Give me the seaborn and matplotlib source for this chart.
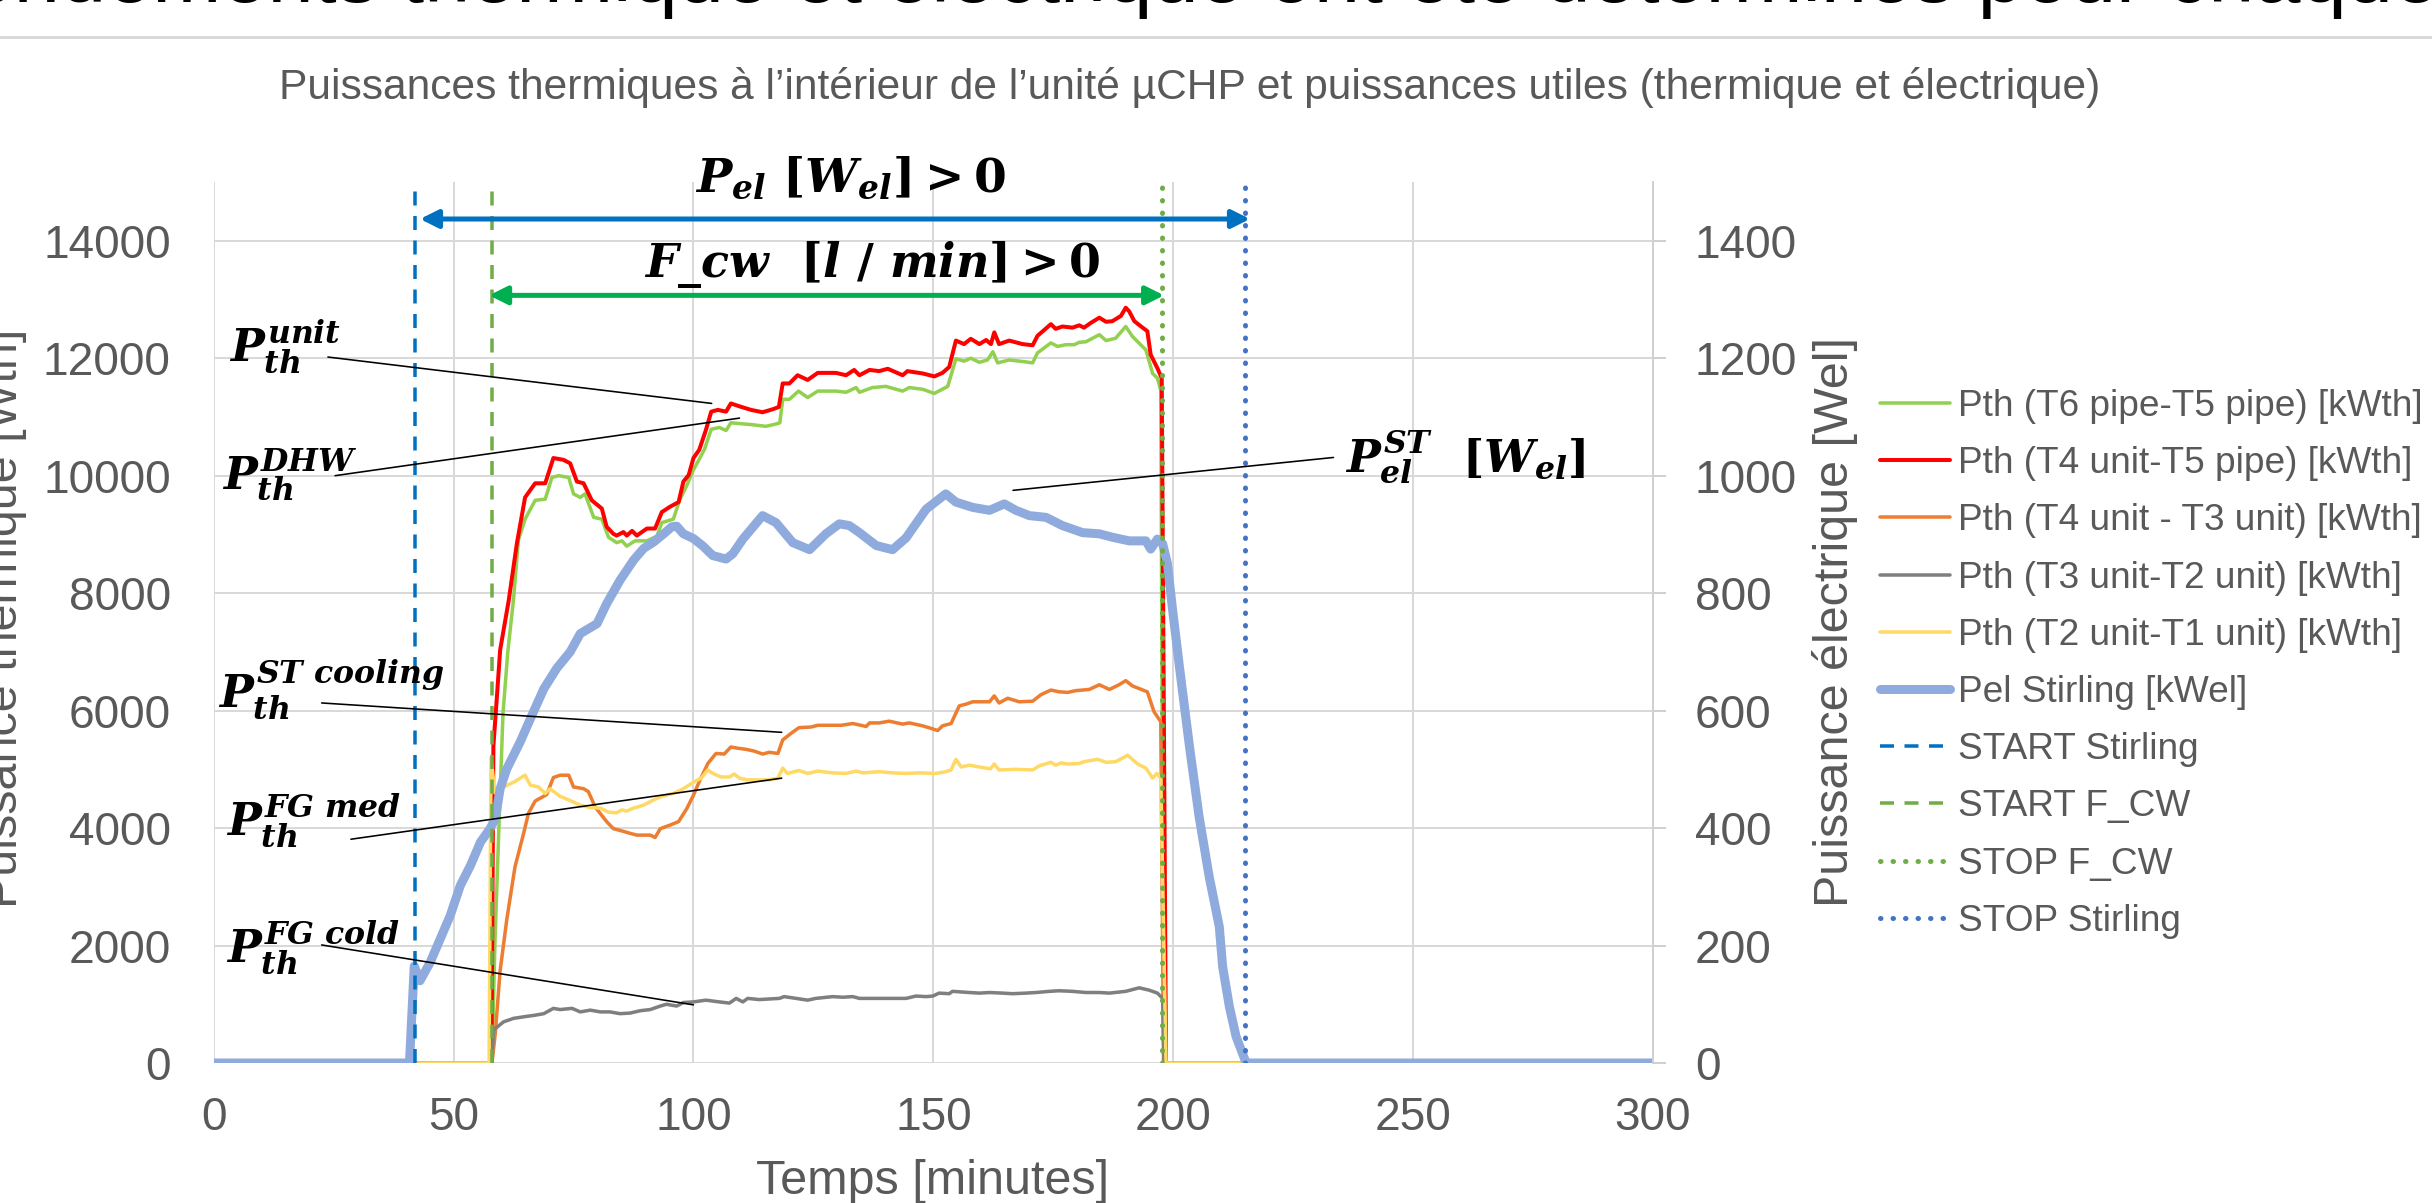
"""Thermal and electrical power of the uCHP unit during one Stirling run."""
# %%
import matplotlib
matplotlib.use('Agg')
import matplotlib.pyplot as plt
import seaborn as sns
from matplotlib.lines import Line2D

# %%
# values: time [min], thermal power [Wth], electrical power [Wel]
t_dhw = [0, 58.0, 58.6, 59.4, 60.3, 61.3, 62.5, 63.5, 64.9, 67.0, 69.1, 70.5, 71.9, 74.0, 75.0, 76.4,
         77.4, 79.2, 80.9, 82.3, 84.0, 85.1, 86.1, 87.8, 90.3, 92.4, 93.4, 95.8, 97.2, 98.6, 100.0,
         101.2, 102.3, 103.7, 105.4, 106.8, 107.8, 109.2, 112.0, 115.1, 117.2, 118.0, 118.6, 120.0,
         121.9, 123.8, 125.9, 129.7, 131.8, 133.9, 134.6, 137.3, 140.1, 143.6, 145.0, 147.8, 150.2,
         153.0, 154.7, 156.4, 157.8, 159.6, 161.3, 162.4, 163.4, 165.8, 169.0, 170.7, 171.7, 174.5,
         175.9, 177.6, 179.4, 180.4, 181.8, 184.6, 186.0, 188.0, 190.1, 191.5, 194.3, 195.7, 196.7,
         197.4, 198.0, 300]
p_dhw = [0, 0, 2000, 3900, 5950, 7000, 7900, 8900, 9260, 9580, 9600, 9970, 10000, 9970, 9690, 9630,
         9690, 9290, 9260, 8950, 8860, 8890, 8800, 8890, 8890, 8970, 9200, 9260, 9600, 9830, 10100,
         10280, 10450, 10790, 10820, 10770, 10900, 10890, 10870, 10840, 10880, 10900, 11300, 11300,
         11440, 11330, 11440, 11440, 11420, 11500, 11420, 11500, 11520, 11440, 11500, 11470, 11400,
         11520, 11990, 11950, 12000, 11930, 11970, 12110, 11920, 11970, 11940, 11920, 12090, 12260,
         12200, 12230, 12230, 12270, 12280, 12400, 12300, 12340, 12540, 12370, 12140, 11740, 11660,
         11460, 0, 0]

t_unit = [0, 57.9, 58.3, 59.0, 59.7, 61.5, 63.2, 64.9, 67.0, 69.1, 70.8, 72.9, 74.3, 75.7, 77.1, 78.8,
          80.9, 81.9, 83.3, 84.0, 85.4, 86.1, 87.2, 88.2, 90.3, 92.0, 93.4, 95.1, 96.9, 97.9, 99.0,
          100.0, 101.2, 102.6, 103.7, 105.1, 106.8, 107.8, 109.6, 112.0, 114.4, 116.5, 117.8, 118.6,
          120.0, 121.7, 123.8, 125.9, 129.7, 131.8, 133.5, 134.6, 136.7, 138.7, 140.5, 143.6, 144.6,
          147.8, 150.2, 151.9, 153.3, 154.7, 156.4, 157.8, 159.6, 161.0, 162.0, 162.7, 163.7, 165.8,
          168.6, 170.7, 171.7, 174.5, 175.5, 176.9, 179.0, 180.4, 181.4, 182.8, 184.6, 186.0, 187.3,
          189.1, 190.1, 190.8, 191.9, 193.3, 194.6, 195.3, 196.7, 197.6, 198.5, 300]
p_unit = [0, 0, 5400, 6200, 7030, 7880, 8850, 9630, 9870, 9870, 10300, 10270, 10210, 9900, 9870, 9580,
          9440, 9130, 9010, 8980, 9040, 8980, 9060, 8980, 9100, 9100, 9380, 9470, 9550, 9900, 10010,
          10300, 10440, 10780, 11090, 11120, 11090, 11230, 11180, 11120, 11080, 11130, 11170, 11570,
          11570, 11710, 11630, 11750, 11750, 11710, 11800, 11710, 11800, 11780, 11820, 11710, 11780,
          11740, 11690, 11750, 11850, 12300, 12240, 12330, 12240, 12310, 12240, 12440, 12240, 12300,
          12240, 12220, 12380, 12580, 12500, 12540, 12520, 12560, 12520, 12600, 12690, 12620, 12630,
          12720, 12860, 12800, 12630, 12540, 12460, 12060, 11830, 11660, 0, 0]

t_cool = [0, 58.0, 58.7, 59.7, 61.1, 62.8, 64.6, 65.6, 67.0, 69.4, 70.8, 72.2, 74.0, 75.0, 77.1, 78.1,
          79.5, 81.9, 83.3, 84.7, 86.8, 88.2, 89.6, 91.0, 92.0, 93.1, 95.1, 96.9, 98.6, 100.0, 101.2,
          103.0, 104.7, 106.4, 107.8, 109.2, 111.0, 112.7, 114.4, 115.8, 117.6, 118.6, 120.3, 122.0,
          124.5, 125.9, 128.3, 130.8, 133.2, 136.0, 136.7, 138.7, 140.8, 143.6, 145.0, 147.8, 149.8,
          150.9, 151.9, 153.7, 155.4, 156.8, 158.2, 161.7, 162.7, 163.7, 165.5, 167.9, 170.7, 172.4,
          174.5, 176.2, 178.0, 179.7, 181.1, 182.5, 184.6, 186.7, 188.7, 190.1, 191.5, 194.6, 196.0,
          197.4, 198.0, 300]
p_cool = [0, 0, 510, 1570, 2450, 3340, 3910, 4250, 4460, 4570, 4860, 4900, 4900, 4700, 4670, 4620,
          4360, 4110, 3990, 3960, 3910, 3880, 3880, 3880, 3840, 3990, 4050, 4110, 4330, 4560, 4790,
          5100, 5270, 5260, 5380, 5360, 5340, 5310, 5260, 5290, 5270, 5500, 5610, 5710,
          5720, 5750, 5750, 5750, 5780, 5730, 5790, 5790, 5820, 5770, 5790, 5740, 5690,
          5660, 5740, 5780, 6080, 6110, 6150, 6150, 6250, 6130, 6210, 6150, 6160, 6270,
          6350, 6320, 6310, 6340, 6350, 6360, 6440, 6360, 6440, 6510, 6420, 6320, 5980,
          5810, 0, 0]

t_cold = [0, 58.0, 58.3, 60.4, 62.5, 64.9, 66.7, 68.8, 70.8, 72.2, 74.7, 76.4, 78.5, 80.6, 82.6, 84.7,
          86.8, 88.9, 91.0, 93.1, 94.4, 96.5, 97.9, 100.0, 102.6, 105.4, 107.5, 108.9, 110.3, 111.3,
          113.7, 117.9, 118.9, 121.4, 123.8, 125.5, 129.0, 131.1, 133.2, 134.6, 137.3, 141.5, 144.3,
          146.4, 148.5, 149.9, 151.2, 153.3, 154.0, 157.5, 159.6, 161.7, 164.4, 166.5, 169.3, 171.4,
          174.2, 176.2, 179.0, 181.8, 184.6, 186.7, 190.1, 192.9, 195.0, 196.7, 197.8, 198.1, 300]
p_cold = [0, 0, 560, 700, 760, 790, 810, 840, 930, 910, 930, 870, 900, 870, 870, 840,
          850, 890, 910, 970, 1000, 970, 1030, 1040, 1070, 1040, 1020, 1100, 1040, 1100,
          1080, 1100, 1130, 1100, 1070, 1100, 1130, 1120, 1130, 1100, 1100, 1100, 1100,
          1140, 1130, 1140, 1190, 1180, 1220, 1200, 1190, 1200, 1190, 1180, 1190, 1200,
          1220, 1230, 1220, 1200, 1200, 1190, 1220, 1280, 1240, 1190, 1100, 0, 0]

t_med = [0, 57.4, 57.8, 58.6, 60.4, 62.5, 64.9, 66.0, 67.7, 69.1, 70.1, 72.2, 74.0, 76.4, 78.5, 80.6,
         82.3, 84.0, 85.1, 86.1, 87.5, 89.6, 91.7, 93.4, 95.8, 97.9, 100.0, 101.6, 103.0, 104.0, 105.8,
         107.5, 108.5, 109.6, 111.3, 113.7, 115.8, 117.6, 118.6, 119.6, 122.0, 123.8, 125.9, 129.0,
         131.8, 133.9, 135.3, 138.7, 141.5, 144.3, 147.1, 150.5, 152.6, 153.7, 154.7, 155.8, 157.5,
         160.3, 161.9, 162.7, 163.7, 167.2, 170.7, 172.1, 174.5, 175.5, 176.6, 178.0, 180.4, 181.4,
         184.2, 186.0, 188.0, 190.5, 192.6, 194.3, 195.7, 196.6, 197.4, 198.5, 300]
p_med = [0, 0, 5200, 4600, 4700, 4780, 4900, 4730, 4700, 4590, 4670, 4540, 4480, 4390, 4350, 4340,
         4270, 4260, 4310, 4290, 4340, 4390, 4480, 4540, 4590, 4670, 4780, 4850, 4990, 4930, 4870,
         4870, 4920, 4850, 4820, 4820, 4820, 4850, 5020, 4930, 4980, 4930, 4970, 4940,
         4930, 4970, 4940, 4960, 4940, 4930, 4940, 4930, 4960, 4990, 5170, 5040, 5070,
         5030, 5010, 5090, 4990, 5000, 4990, 5060, 5120, 5070, 5110, 5090, 5100, 5130,
         5170, 5120, 5130, 5240, 5090, 5020, 4850, 4930, 4850, 0, 0]

t_pel = [0, 40.8, 41.8, 43.0, 45.1, 47.2, 49.3, 51.4, 53.5, 55.6, 57.6, 58.7, 59.7, 61.1, 63.9, 66.0,
         68.8, 71.5, 74.3, 76.4, 79.9, 81.9, 84.7, 87.5, 89.6, 91.7, 93.8, 95.5, 96.5, 97.9, 100.0,
         102.0, 104.0, 106.8, 108.2, 110.3, 114.4, 117.2, 120.7, 124.2, 127.6, 130.4, 132.5, 134.6,
         138.1, 141.5, 144.3, 148.5, 152.6, 154.7, 158.2, 161.7, 164.8, 167.2, 170.0, 173.5, 176.9,
         181.1, 184.6, 187.4, 190.8, 194.3, 195.3, 196.7, 197.8, 198.8, 199.8, 201.3, 203.4, 205.4,
         207.5, 209.6, 210.3, 211.7, 213.1, 215.2, 300]
p_pel = [0, 0, 165, 140, 171, 211, 251, 302, 336, 376, 399, 416, 467, 501, 547, 586,
         637, 672, 700, 731, 748, 782, 822, 856, 876, 887, 901, 913, 914, 901, 893,
         880, 864, 858, 867, 892, 932, 920, 886, 874, 901, 918, 915, 903,
         881, 874, 894, 943, 969, 955, 946, 941, 952, 941, 932, 929, 915,
         903, 901, 895, 889, 889, 875, 892, 884, 850, 776, 674, 538, 419,
         317, 232, 164, 96, 45, 0, 0]

# start / stop instants [min]
start_stirling = 42
start_fcw = 58
stop_fcw = 197.7
stop_stirling = 215

# %%
sns.set_theme(style='white')
plt.rcParams['font.family'] = ['Liberation Sans', 'DejaVu Sans']
plt.rcParams['mathtext.fontset'] = 'custom'
plt.rcParams['mathtext.it'] = 'DejaVu Serif:italic:bold'
plt.rcParams['mathtext.rm'] = 'DejaVu Serif:bold'
plt.rcParams['mathtext.bf'] = 'DejaVu Serif:bold'

W, H = 2432, 1203
grey_txt = '#595959'
fig = plt.figure(figsize=(W / 72, H / 72), dpi=72)
ax = fig.add_axes([213.7 / W, 1 - 1063 / H, (1653 - 213.7) / W, (1063 - 182) / H])
ax2 = ax.twinx()

series = [
    (t_dhw, p_dhw, '#92D050', 3.5, 'Pth (T6 pipe-T5 pipe) [kWth]'),
    (t_unit, p_unit, '#FF0000', 4, 'Pth (T4 unit-T5 pipe) [kWth]'),
    (t_cool, p_cool, '#ED7D31', 3.5, 'Pth (T4 unit - T3 unit) [kWth]'),
    (t_cold, p_cold, '#7F7F7F', 3.5, 'Pth (T3 unit-T2 unit) [kWth]'),
    (t_med, p_med, '#FFD966', 3.5, 'Pth (T2 unit-T1 unit) [kWth]'),
]
for t, p, c, lw, lab in series:
    sns.lineplot(x=t, y=p, ax=ax, color=c, lw=lw, label=lab, sort=False, estimator=None)

sns.lineplot(x=t_pel, y=p_pel, ax=ax2, color='#8FAADC', lw=9, label='Pel Stirling [kWel]',
             sort=False, estimator=None)

dash = (0, (4, 3))
dot = (0, (0.1, 2.4))
ax2.plot([start_stirling] * 2, [0, 1500], color='#0070C0', lw=3.5, ls=dash, label='START Stirling')
ax2.plot([start_fcw] * 2, [0, 1500], color='#70AD47', lw=3.5, ls=dash, label='START F_CW')
ax2.plot([stop_fcw] * 2, [0, 1500], color='#70AD47', lw=5, ls=dot, dash_capstyle='round',
         label='STOP F_CW')
ax2.plot([stop_stirling] * 2, [0, 1500], color='#4472C4', lw=5, ls=dot, dash_capstyle='round',
         label='STOP Stirling')

for a in (ax, ax2):
    if a.get_legend() is not None:
        a.get_legend().remove()

# %%
# axes look
ax.set_xlim(0, 300)
ax.set_ylim(0, 15000)
ax2.set_ylim(0, 1500)
ax.set_xticks(range(0, 301, 50))
ax.set_yticks(range(0, 14001, 2000))
ax2.set_yticks(range(0, 1401, 200))
ax.grid(True, color='#D9D9D9', lw=2)
ax.set_axisbelow(True)
ax.set_xlabel('')
ax.set_ylabel('')
ax2.set_ylabel('')
for s in ax.spines.values():
    s.set_visible(False)
for k, s in ax2.spines.items():
    s.set_visible(k == 'right')
ax2.spines['right'].set_color('#D0D0D0')
ax2.spines['right'].set_linewidth(2)
ax.tick_params(axis='x', length=0, pad=33, labelsize=46, labelcolor=grey_txt)
ax.tick_params(axis='y', length=0, pad=43, labelsize=46, labelcolor=grey_txt)
ax2.tick_params(axis='y', length=13, width=2, color='#D0D0D0', pad=29, labelsize=46,
                labelcolor=grey_txt)

fig.text(933 / W, 1 - 1181 / H, 'Temps [minutes]', ha='center', va='center', fontsize=48.5,
         color=grey_txt)
fig.text(5 / W, 1 - 618 / H, 'Puissance thermique [Wth]', rotation=90, ha='center', va='center',
         fontsize=48.5, color=grey_txt)
fig.text(1835 / W, 1 - 622 / H, 'Puissance électrique [Wel]', rotation=90, ha='center',
         va='center', fontsize=48.5, color=grey_txt)

# %%
# arrows with the operating windows
arrow = dict(arrowstyle='<|-|>,head_length=0.6,head_width=0.3', mutation_scale=25, lw=5,
             shrinkA=0, shrinkB=0)
ax2.annotate('', xy=(43, 14370), xytext=(216, 14370), xycoords=ax.transData,
             arrowprops=dict(arrow, color='#0070C0'))
ax2.annotate('', xy=(57.4, 13070), xytext=(198.1, 13070), xycoords=ax.transData,
             arrowprops=dict(arrow, color='#00B050'))
ax2.text(100.3, 14840, r'$P_{el}\ [W_{el}] > 0$', transform=ax.transData, fontsize=47,
         ha='left', va='baseline', color='black')
ax2.text(89.6, 13380, r'$F\_cw\ \ [l\ /\ min] > 0$', transform=ax.transData, fontsize=46,
         ha='left', va='baseline', color='black')

# labels with leader lines: (text, text x, text y, line start, line end)
labels = [
    (r'$P_{th}^{unit}$', 3.2, 11950, (23.8, 12020), (103.8, 11230)),
    (r'$P_{th}^{DHW}$', 1.7, 9790, (25.3, 10000), (109.6, 10980)),
    (r'$P_{th}^{ST\ cooling}$', 0.9, 6060, (22.5, 6130), (118.4, 5630)),
    (r'$P_{th}^{FG\ med}$', 2.6, 3880, (28.6, 3810), (118.4, 4850)),
    (r'$P_{th}^{FG\ cold}$', 2.6, 1720, (22.5, 2010), (100.0, 990)),
    (r'$P_{el}^{ST}\ \ [W_{el}]$', 235.7, 10060, (233.4, 10310), (166.6, 9750)),
]
for s, x, y, p0, p1 in labels:
    ax2.text(x, y, s, transform=ax.transData, fontsize=45, ha='left', va='baseline',
             color='black')
    ax2.annotate('', xy=p1, xytext=p0, xycoords=ax.transData,
                 arrowprops=dict(arrowstyle='-', color='black', lw=1.6, shrinkA=0, shrinkB=0))

# %%
# legend for both axes
h1, l1 = ax.get_legend_handles_labels()
h2, l2 = ax2.get_legend_handles_labels()
fig.legend(h1 + h2, l1 + l2, loc='upper left', bbox_to_anchor=(1880 / W, 1 - 389 / H),
           frameon=False, fontsize=37, handlelength=70 / 37, handletextpad=8 / 37,
           labelspacing=0.6, borderpad=0, borderaxespad=0, labelcolor=grey_txt)

# slide title (cut by the screenshot), separator and chart title
fig.text(-60 / W, 1 - 2 / H, 'rendements thermique et électrique ont été déterminés pour chaque essai',
         ha='left', va='baseline', fontsize=83, color='black')
fig.add_artist(Line2D([0, 1], [1 - 37 / H] * 2, color='#D9D9D9', lw=3, transform=fig.transFigure))
fig.text(1190 / W, 1 - 99 / H,
         "Puissances thermiques à l’intérieur de l’unité µCHP et puissances utiles (thermique et électrique)",
         ha='center', va='baseline', fontsize=42.5, color=grey_txt)

plt.savefig('out.png', dpi=72)
